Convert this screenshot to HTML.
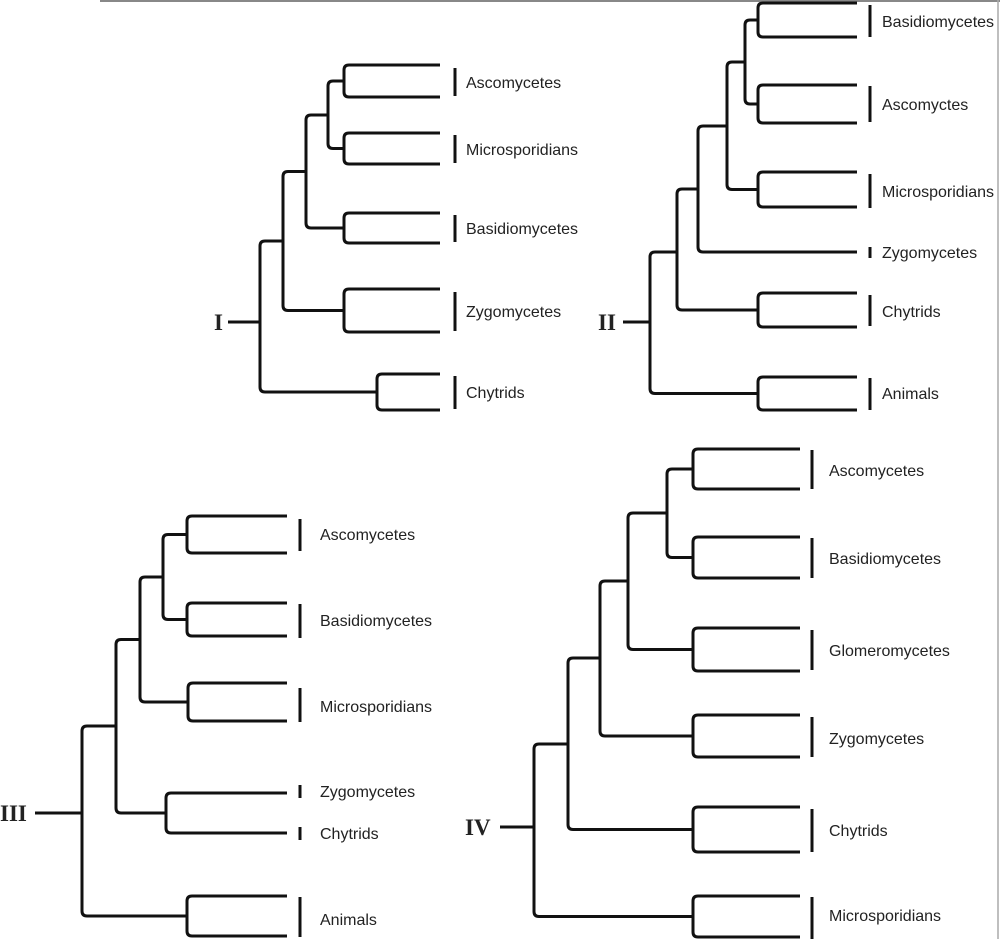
<!DOCTYPE html>
<html><head><meta charset="utf-8"><style>
html,body{margin:0;padding:0;background:#fff;}
svg{display:block;}
.t{font-family:"Liberation Sans",sans-serif;font-size:16px;fill:#222;}
.r{font-family:"Liberation Serif",serif;font-size:23px;font-weight:bold;fill:#222;}
</style></head><body>
<svg id="s" width="1000" height="939" viewBox="0 0 1000 939" xmlns="http://www.w3.org/2000/svg">
<line x1="100" y1="1" x2="1000" y2="1" stroke="#888" stroke-width="2"/>
<line x1="998" y1="0" x2="998" y2="939" stroke="#aaa" stroke-width="1.5"/>
<g id="p" fill="none" stroke="#111" stroke-width="3" stroke-linecap="butt" stroke-linejoin="round"></g>
<!-- Tree I -->
<text class="r" x="214" y="330">I</text>
<text class="t" x="466" y="88">Ascomycetes</text>
<text class="t" x="466" y="155">Microsporidians</text>
<text class="t" x="466" y="234">Basidiomycetes</text>
<text class="t" x="466" y="317">Zygomycetes</text>
<text class="t" x="466" y="398">Chytrids</text>
<!-- Tree II -->
<text class="r" x="598" y="330">II</text>
<text class="t" x="882" y="27">Basidiomycetes</text>
<text class="t" x="882" y="110">Ascomyctes</text>
<text class="t" x="882" y="197">Microsporidians</text>
<text class="t" x="882" y="258">Zygomycetes</text>
<text class="t" x="882" y="317">Chytrids</text>
<text class="t" x="882" y="399">Animals</text>
<!-- Tree III -->
<text class="r" x="0" y="821">III</text>
<text class="t" x="320" y="540">Ascomycetes</text>
<text class="t" x="320" y="626">Basidiomycetes</text>
<text class="t" x="320" y="712">Microsporidians</text>
<text class="t" x="320" y="797">Zygomycetes</text>
<text class="t" x="320" y="839">Chytrids</text>
<text class="t" x="320" y="925">Animals</text>
<!-- Tree IV -->
<text class="r" x="465" y="835">IV</text>
<text class="t" x="829" y="476">Ascomycetes</text>
<text class="t" x="829" y="564">Basidiomycetes</text>
<text class="t" x="829" y="656">Glomeromycetes</text>
<text class="t" x="829" y="744">Zygomycetes</text>
<text class="t" x="829" y="836">Chytrids</text>
<text class="t" x="829" y="921">Microsporidians</text>
</svg>
<script>
var g=document.getElementById('p'),d='';
function br(x,y1,y2,e1,e2){var r=5;d+='M'+e1+','+y1+' H'+(x+r)+' Q'+x+','+y1+' '+x+','+(y1+r)+' V'+(y2-r)+' Q'+x+','+y2+' '+(x+r)+','+y2+' H'+e2+' ';}
function ln(x1,y1,x2,y2){d+='M'+x1+','+y1+' L'+x2+','+y2+' ';}
function tk(x,a,b){ln(x,a,x,b);}
// I
br(344,65,97,440,440);br(344,133,164,440,440);br(328,81,148.5,344,344);
br(344,213,243,440,440);br(306,115,228,328,344);br(344,289,332,440,440);
br(283,171.5,310.5,306,344);br(377,374,410,440,440);br(260,241,392,283,377);
ln(228,322,260,322);
[[68,96],[135,163],[215,242],[292,331],[376,409]].forEach(function(a){tk(455,a[0],a[1]);});
// II
br(758,3,37,857,857);br(758,85,123,857,857);br(745,20,104,758,758);
br(758,172,207,857,857);br(727,62,189.5,745,758);br(698,126,252,727,857);
br(758,293,327,857,857);br(677,189,310,698,758);br(758,377,410,857,857);
br(650,252,393.5,677,758);ln(623,322,650,322);
[[5,37],[86,122],[174,208],[247,258],[295,326],[378,410]].forEach(function(a){tk(870,a[0],a[1]);});
// III
br(187,516,553,287,287);br(187,603,636,287,287);br(163,534.5,619.5,187,187);
br(188,683,721,287,287);br(140,577,702,163,188);br(166,793,833,287,287);
br(116,639.5,813,140,166);br(187,896,936,287,287);br(82,726,916,116,187);
ln(35,813,82,813);
[[519,551],[604,638],[688,722],[785,798],[827,840],[897,937]].forEach(function(a){tk(300,a[0],a[1]);});
// IV
br(693,449,489,800,800);br(693,537,578,800,800);br(667,469,557.5,693,693);
br(693,628,671,800,800);br(628,513,649.5,667,693);br(693,715,757,800,800);
br(600,581,736,628,693);br(693,807,852,800,800);br(568,658,829.5,600,693);
br(693,896,937,800,800);br(534,744,916.5,568,693);ln(500,827,534,827);
[[450,489],[538,578],[630,670],[717,757],[809,852],[897,939]].forEach(function(a){tk(812,a[0],a[1]);});
var p=document.createElementNS('http://www.w3.org/2000/svg','path');p.setAttribute('d',d);g.appendChild(p);
</script>
</body></html>
